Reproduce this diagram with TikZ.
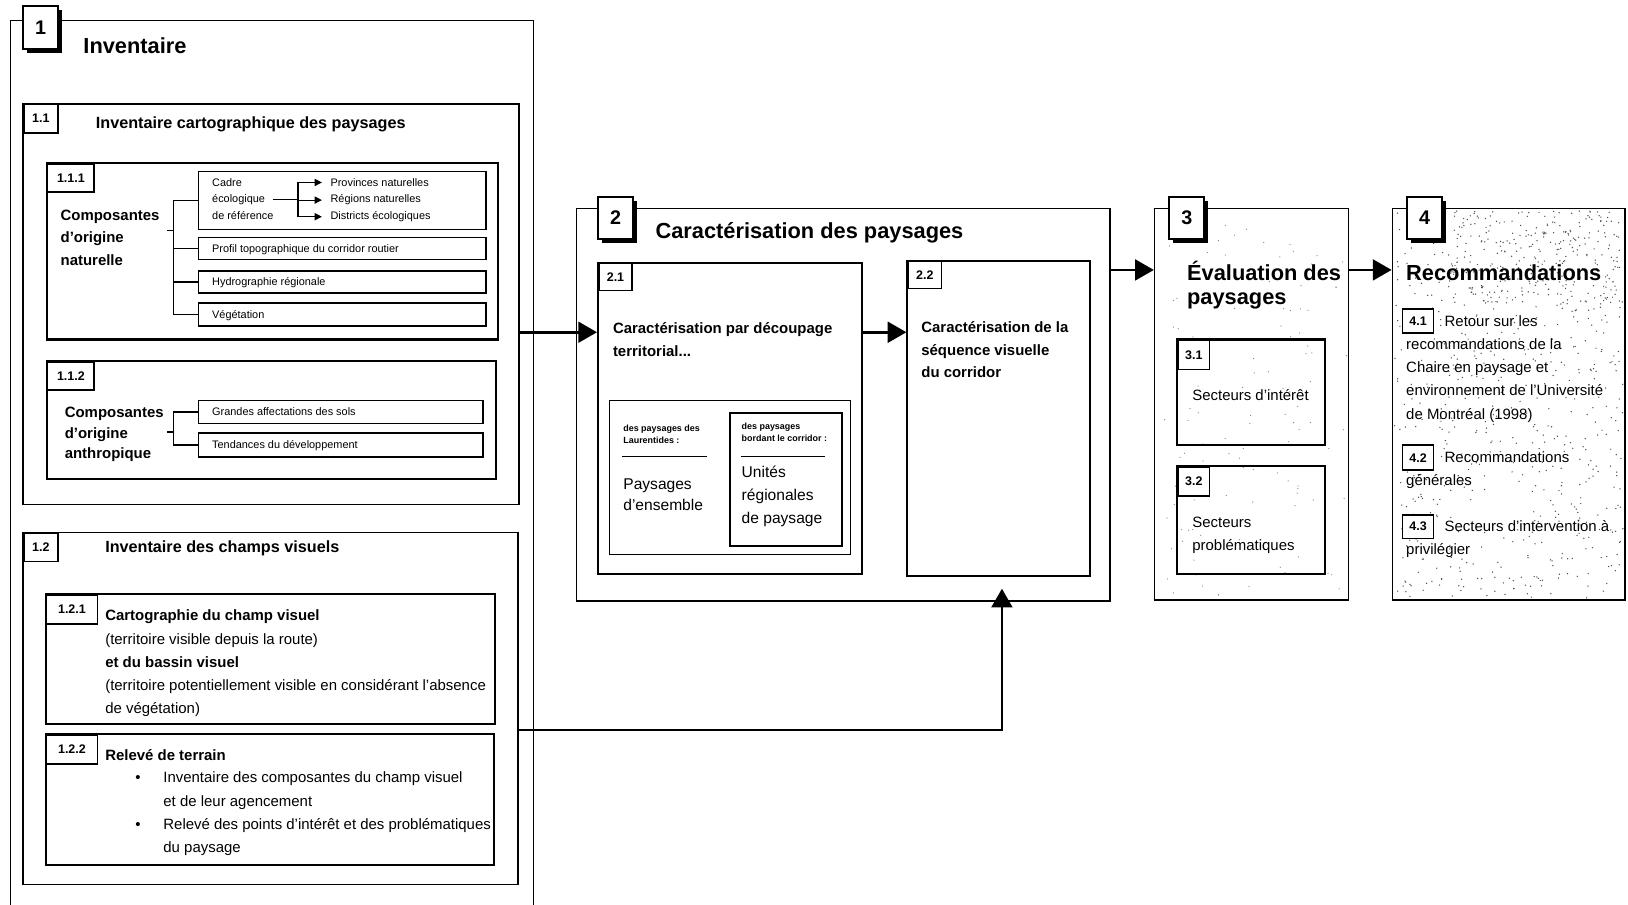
\documentclass[tikz,border=0pt]{standalone}
\usepackage{fontspec}
\setmainfont{Liberation Sans}
\usetikzlibrary{arrows.meta,fit,shadows}

\begin{document}
\begin{tikzpicture}[x=0.5pt, y=-0.5pt,
  boite/.style={draw, line width=0.7pt, inner sep=0pt},
  boiteg/.style={boite, line width=1pt},
  etiq/.style={draw, line width=0.8pt, fill=white, inner sep=0pt, anchor=north west, font=\fontsize{6}{7}\selectfont\bfseries},
  getiq/.style={etiq, line width=1pt, minimum width=17pt, minimum height=20pt, font=\fontsize{9.5}{10}\selectfont\bfseries, general shadow={fill=black, shadow xshift=1.8pt, shadow yshift=-1.8pt}},
  titre/.style={anchor=base west, inner sep=0pt, align=left, font=\fontsize{10.5}{11.5}\selectfont\bfseries},
  sstitre/.style={anchor=base west, inner sep=0pt, font=\fontsize{7.8}{9}\selectfont\bfseries},
  texte/.style={anchor=base west, inner sep=0pt, align=left, font=\fontsize{7.2}{11.2}\selectfont},
  texteg/.style={texte, font=\fontsize{7.2}{11}\selectfont\bfseries},
  petit/.style={anchor=base west, inner sep=0pt, align=left, font=\fontsize{5.25}{8}\selectfont},
  minus/.style={anchor=base west, inner sep=0pt, align=left, font=\fontsize{4.3}{5.6}\selectfont\bfseries},
  fleche/.style={line width=1.25pt, -{Triangle[length=9pt,width=10pt]}},
  pfleche/.style={line width=0.5pt, -{Triangle[length=3.5pt,width=3.5pt]}, shorten >=4pt},
  lien/.style={line width=0.7pt}]
\useasboundingbox (0,0) rectangle (1568,871);

\pgfmathsetseed{42}
\foreach \i in {1,...,600}
  \fill[black!70] ({1343+220*rnd},{203+373*rnd}) circle (0.35pt);
\foreach \i in {1,...,250}
  \fill[black!70] ({1395+165*rnd},{203+90*rnd}) circle (0.35pt);
\foreach \i in {1,...,120}
  \fill[black!50] ({1114+183*rnd},{203+373*rnd}) circle (0.3pt);

\node[boite, fit={(10,20) (514,900)}] (b1) {};
\node[getiq, minimum height=20.5pt] (t1) at (21,5) {1};
\node[titre] (ti1) at (80,52) {Inventaire};

\node[boite, fit={(22,100) (500,486)}] (b11) {};
\node[etiq, minimum width=16.5pt, minimum height=13.5pt] (t11) at (22,100) {1.1};
\node[sstitre] (ti11) at (92,123.5) {Inventaire cartographique des paysages};

\node[boiteg, fit={(45,157) (480,327)}] (b111) {};
\node[etiq, minimum width=22.5pt, minimum height=13.5pt] (t111) at (45,157) {1.1.1};
\node[texteg] (nat) at (58,256) {Composantes\\d’origine\\naturelle};
\node[boite, fit={(191,165) (468,221)}] (cadre) {};
\node[petit] (cadtxt) at (204,211.5) {Cadre\\écologique\\de référence};
\node[petit] (prov) at (318,179.5) {Provinces naturelles};
\node[petit] (reg) at (318,195.5) {Régions naturelles};
\node[petit] (dist) at (318,211.5) {Districts écologiques};
\node[boite, fit={(191,229) (468,250)}] (profil) {};
\node[petit] (proftxt) at (204,243.5) {Profil topographique du corridor routier};
\node[boite, fit={(191,261) (468,282)}] (hydro) {};
\node[petit] (hydtxt) at (204,275) {Hydrographie régionale};
\node[boite, fit={(191,292) (468,314)}] (veg) {};
\node[petit] (vegtxt) at (204,306.5) {Végétation};
\coordinate (n1) at (161,222);
\coordinate (j1) at (167,222);
\draw[lien] (n1) -- (j1);
\foreach \b in {cadre,profil,hydro,veg}
  \draw[lien] (j1) |- (\b.west);
\coordinate (e1) at (263,192);
\coordinate (j2) at (287,192);
\draw[lien] (e1) -- (j2);
\foreach \b in {prov,reg,dist}
  \draw[pfleche] (j2) |- (\b.west);

\node[boiteg, fit={(45,348) (478,461)}] (b112) {};
\node[etiq, minimum width=22.5pt, minimum height=13.5pt] (t112) at (45,348) {1.1.2};
\node[texteg, font=\fontsize{7.2}{10}\selectfont\bfseries] (anth) at (62,442) {Composantes\\d’origine\\anthropique};
\node[boite, fit={(191,386) (465,408)}] (sols) {};
\node[petit] (solstxt) at (204,400.5) {Grandes affectations des sols};
\node[boite, fit={(191,417) (465,440)}] (tend) {};
\node[petit] (tendtxt) at (204,432) {Tendances du développement};
\coordinate (n2) at (161,416);
\coordinate (j3) at (167,416);
\draw[lien] (n2) -- (j3);
\foreach \b in {sols,tend}
  \draw[lien] (j3) |- (\b.west);

\node[boite, fit={(22,513) (499,852)}] (b12) {};
\node[etiq, minimum width=16.5pt, minimum height=13.5pt] (t12) at (22,513) {1.2};
\node[sstitre] (ti12) at (101,532.5) {Inventaire des champs visuels};
\node[boiteg, fit={(44,572) (477,697)}] (b121) {};
\node[etiq, minimum width=24.5pt, minimum height=14pt] (t121) at (44,572) {1.2.1};
\node[texte] (carto) at (101,687.6) {\textbf{Cartographie du champ visuel}\\(territoire visible depuis la route)\\\textbf{et du bassin visuel}\\(territoire potentiellement visible en considérant l'absence\\de végétation)};
\node[boiteg, fit={(44,707) (476,833)}] (b122) {};
\node[etiq, minimum width=24.5pt, minimum height=14pt] (t122) at (44,707) {1.2.2};
\node[texteg] (releve) at (101,732) {Relevé de terrain};
\node[texte] (p1) at (130,754) {\textbullet};
\node[texte] (pt1) at (157,776.4) {Inventaire des composantes du champ visuel\\et de leur agencement};
\node[texte] (p2) at (130,799) {\textbullet};
\node[texte] (pt2) at (157,821.4) {Relevé des points d’intérêt et des problématiques\\du paysage};

\node[boite, fit={(555,201) (1069,579)}] (b2) {};
\node[getiq] (t2) at (575,189) {2};
\node[titre] (ti2) at (631,230) {Caractérisation des paysages};
\node[boiteg, fit={(576,253) (830,553)}] (b21) {};
\node[etiq, minimum width=16pt, minimum height=13pt] (t21) at (576,253) {2.1};
\node[texteg] (dec) at (590,343) {Caractérisation par découpage\\territorial...};
\node[boite, fit={(587,386) (819,534)}] (cad21) {};
\node[minus] (laur) at (600,427.2) {des paysages des\\Laurentides :};
\draw[line width=0.4pt] (599,440) -- (681,440);
\node[texte, font=\fontsize{7.5}{10.5}\selectfont] (ens) at (600,492) {Paysages\\d'ensemble};
\node[boiteg, fit={(703,398) (811,526)}] (unit) {};
\node[minus] (bord) at (714,425.2) {des paysages\\bordant le corridor :};
\draw[line width=0.4pt] (714,440) -- (795,440);
\node[texte, font=\fontsize{7.5}{11}\selectfont] (ureg) at (714,504) {Unités\\régionales\\de paysage};
\node[boiteg, fit={(874,251) (1050,555)}] (b22) {};
\node[etiq, minimum width=16pt, minimum height=13pt] (t22) at (874,251) {2.2};
\node[texteg] (seq) at (887,364) {Caractérisation de la\\séquence visuelle\\du corridor};

\node[boite, fit={(1112,201) (1299,578)}] (b3) {};
\node[getiq] (t3) at (1125,189) {3};
\node[titre] (ti3) at (1143,293) {Évaluation des\\paysages};
\node[boiteg, fit={(1134,327) (1276,429)}] (b31) {};
\node[etiq, minimum width=15pt, minimum height=14pt] (t31) at (1134,327) {3.1};
\node[texte] (s31) at (1148,386) {Secteurs d’intérêt};
\node[boiteg, fit={(1134,449) (1276,553)}] (b32) {};
\node[etiq, minimum width=15pt, minimum height=14pt] (t32) at (1134,449) {3.2};
\node[texte] (s32) at (1148,530.4) {Secteurs\\problématiques};

\node[boite, fit={(1341,201) (1565,578)}] (b4) {};
\node[getiq] (t4) at (1354,189) {4};
\node[titre] (ti4) at (1354,270) {Recommandations};
\node[etiq, minimum width=15pt, minimum height=11.5pt] (t41) at (1350,297) {4.1};
\node[texte] (r41) at (1354,403.6) {\hspace*{18.5pt}Retour sur les\\recommandations de la\\Chaire en paysage et\\environnement de l'Université\\de Montréal (1998)};
\node[etiq, minimum width=15pt, minimum height=12pt] (t42) at (1350,428) {4.2};
\node[texte] (r42) at (1354,467.4) {\hspace*{18.5pt}Recommandations\\générales};
\node[etiq, minimum width=15pt, minimum height=11.5pt] (t43) at (1350,495) {4.3};
\node[texte] (r43) at (1354,534.4) {\hspace*{18.5pt}Secteurs d’intervention à\\privilégier};

\coordinate (s1) at (500,320);
\draw[fleche] (s1) -- (s1 -| b21.west);
\draw[fleche] (s1 -| b21.east) -- (s1 -| b22.west);
\coordinate (s2) at (499,703);
\coordinate (p2) at (965,567);
\draw[fleche] (s2) -| (p2);
\coordinate (s3) at (1069,260);
\draw[fleche] (s3) -- (s3 -| b3.west);
\draw[fleche] (s3 -| b3.east) -- (s3 -| b4.west);
\end{tikzpicture}
\end{document}
